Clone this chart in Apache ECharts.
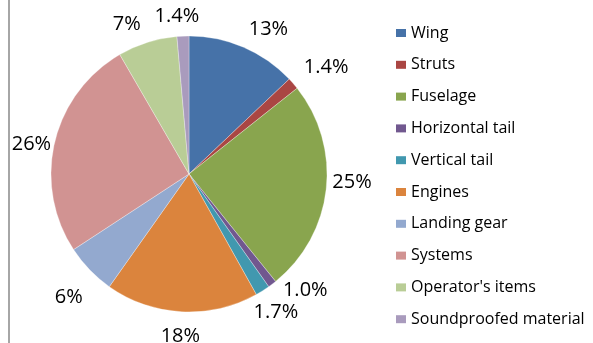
<!DOCTYPE html>
<html>
<head>
<meta charset="utf-8">
<script src="https://cdn.jsdelivr.net/npm/echarts@6/dist/echarts.min.js"></script>
<style>
  html, body { margin: 0; padding: 0; background: #fff; }
  #chart { width: 593px; height: 343px; }
</style>
</head>
<body>
<div id="chart"></div>
<script>
// Weight breakdown by component group (percent of total)
const categories = [
  'Wing', 'Struts', 'Fuselage', 'Horizontal tail', 'Vertical tail',
  'Engines', 'Landing gear', 'Systems', "Operator's items", 'Soundproofed material'
];
const shares = [13, 1.4, 25, 1.0, 1.7, 18, 6, 26, 7, 1.4];
const palette = [
  '#4672A8', '#AA4643', '#89A54E', '#71588F', '#4198AF',
  '#DB843D', '#93A9CF', '#D19392', '#B9CD96', '#A99BBD'
];

const FONT = '"Open Sans", "Noto Sans", sans-serif';
const center = [189, 174];
const R = 138;

// best-fit tweaks to the outside label placement (px)
const labelNudge = {
  'Wing': [15, 5],
  'Struts': [14, 0],
  'Fuselage': [1, -10],
  'Horizontal tail': [18, -14],
  'Landing gear': [-3, 10],
  'Systems': [1, 8],
  "Operator's items": [-13, 6],
  'Soundproofed material': [-5, 5]
};

const pieData = categories.map((name, i) => ({ name, value: shares[i] }));
const labelData = categories.map((name, i) => {
  const d = { name, value: shares[i] };
  if (labelNudge[name]) d.label = { offset: labelNudge[name] };
  return d;
});
const fmt = v => (v < 2 ? v.toFixed(1) : String(v)) + '%';

const chart = echarts.init(document.getElementById('chart'), null, { renderer: 'canvas' });
chart.setOption({
  animation: false,
  backgroundColor: '#ffffff',
  color: palette,
  legend: {
    orient: 'vertical',
    left: 396,
    top: 25,
    padding: 0,
    icon: 'rect',
    itemWidth: 10,
    itemHeight: 8,
    itemGap: 15.8,
    selectedMode: false,
    itemStyle: { borderWidth: 0 },
    textStyle: { fontFamily: FONT, fontSize: 16, color: '#000', lineHeight: 16 },
    data: categories
  },
  graphic: [{
    type: 'line',
    shape: { x1: 9, y1: 0, x2: 9, y2: 343 },
    style: { stroke: '#a6a6a6', lineWidth: 2 },
    silent: true
  }],
  series: [
    {
      // the slices themselves
      type: 'pie',
      center: center,
      radius: R,
      startAngle: 90,
      clockwise: true,
      data: pieData,
      label: { show: false },
      labelLine: { show: false },
      itemStyle: { borderColor: 'rgba(255,255,255,0.6)', borderWidth: 0.5 },
      emphasis: { disabled: true },
      silent: true
    },
    {
      // transparent ring just outside the pie that carries the percentage labels
      type: 'pie',
      center: center,
      radius: [R, R + 44],
      startAngle: 90,
      clockwise: true,
      data: labelData,
      itemStyle: { color: 'rgba(0,0,0,0)' },
      label: {
        show: true,
        position: 'inside',
        formatter: p => fmt(p.value),
        fontFamily: FONT,
        fontSize: 20,
        color: '#000'
      },
      labelLayout: { hideOverlap: false },
      labelLine: { show: false },
      legendHoverLink: false,
      emphasis: { disabled: true },
      silent: true
    }
  ]
});
</script>
</body>
</html>
